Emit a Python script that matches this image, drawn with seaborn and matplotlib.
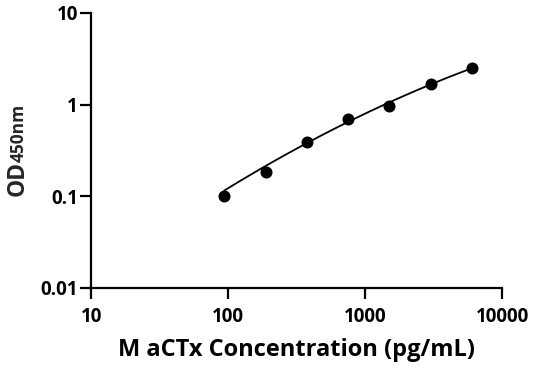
import numpy as np
import pandas as pd
import matplotlib
matplotlib.use("Agg")
import matplotlib.pyplot as plt
import seaborn as sns

# Datos de la curva estándar
concentracion = [93.75, 187.5, 375, 750, 1500, 3000, 6000]
od450 = [0.100, 0.185, 0.395, 0.70, 0.975, 1.69, 2.49]

x_ticks = [10, 100, 1000, 10000]
x_tick_labels = ["10", "100", "1000", "10000"]
y_ticks = [0.01, 0.1, 1, 10]
y_tick_labels = ["0.01", "0.1", "1", "10"]

df = pd.DataFrame({"conc": concentracion, "od": od450})

# Ajuste cuadrático log-log (ponderado por OD) para la línea de tendencia
lx = np.log10(df["conc"])
ly = np.log10(df["od"])
coef = np.polyfit(lx, ly, 2, w=df["od"])
x_fit = np.logspace(lx.min(), lx.max(), 200)
fit = pd.DataFrame({"conc": x_fit, "od": 10 ** np.polyval(coef, np.log10(x_fit))})

sns.set_style("ticks")
plt.rcParams["font.family"] = ["Open Sans", "DejaVu Sans"]
plt.rcParams["font.weight"] = "bold"

fig = plt.figure(figsize=(5.36, 3.71), dpi=100)
ax = fig.add_axes([0.170, 0.224, 0.767, 0.741])

sns.lineplot(data=fit, x="conc", y="od", ax=ax, color="black", linewidth=1.3)
sns.scatterplot(data=df, x="conc", y="od", ax=ax, color="black", s=75,
                edgecolor="black", linewidth=0, zorder=3)

ax.set_xscale("log")
ax.set_yscale("log")
ax.set_xlim(10, 10000)
ax.set_ylim(0.01, 10)
ax.set_xticks(x_ticks)
ax.set_xticklabels(x_tick_labels)
ax.set_yticks(y_ticks)
ax.set_yticklabels(y_tick_labels)
ax.minorticks_off()

sns.despine(ax=ax)
for s in ["left", "bottom"]:
    ax.spines[s].set_linewidth(1.6)
    ax.spines[s].set_color("black")
ax.tick_params(axis="both", direction="out", length=8, width=1.6, color="black",
               labelsize=13.5, labelcolor="black")
ax.tick_params(axis="x", pad=6)
ax.tick_params(axis="y", pad=1.5)
for lbl in ax.get_xticklabels() + ax.get_yticklabels():
    lbl.set_fontweight("bold")

ax.set_xlabel("M aCTx Concentration (pg/mL)", fontsize=17, fontweight="bold",
              color="black", labelpad=8)
ax.set_ylabel("")

# Etiqueta del eje Y: "OD" grande + "450nm" más pequeño, misma línea base
x_base = 24 / 536
y_start = 1 - 196 / 371
t1 = fig.text(x_base, y_start, "OD", rotation=90, rotation_mode="anchor",
              ha="left", va="baseline", fontsize=16.5, fontweight="bold")
fig.canvas.draw()
bb = t1.get_window_extent()
t2 = fig.text(x_base, y_start + (bb.height - 1) / fig.bbox.height, "450nm",
              rotation=90, rotation_mode="anchor", ha="left", va="baseline",
              fontsize=12.5, fontweight="bold")

fig.savefig("out.png", dpi=100)
